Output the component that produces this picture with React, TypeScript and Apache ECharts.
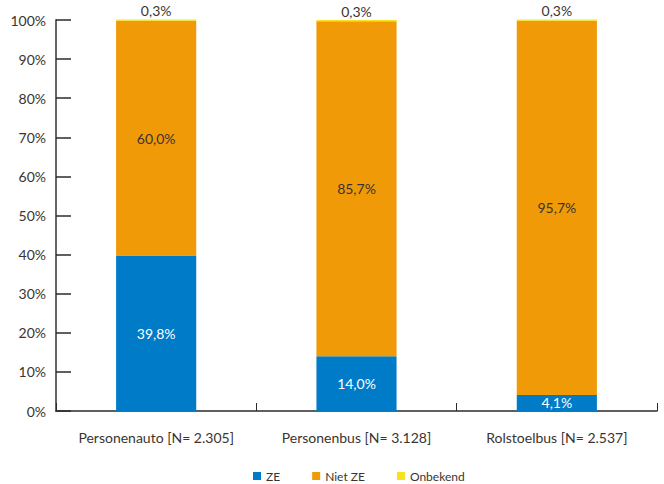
import React, { useEffect, useRef } from "react";
import * as echarts from "echarts";

const categories = ["Personenauto [N= 2.305]", "Personenbus [N= 3.128]", "Rolstoelbus [N= 2.537]"];
const seriesNames = ["ZE", "Niet ZE", "Onbekend"];
const zeValues = [39.8, 14.0, 4.1];
const nietZeValues = [60.0, 85.7, 95.7];
const onbekendValues = [0.3, 0.3, 0.3];
const yTicks = [0, 10, 20, 30, 40, 50, 60, 70, 80, 90, 100];

const colors = ["#007bc7", "#f09a07", "#f9e11e"];
const textColor = "#3b3430";
const font = "Lato, 'Noto Sans', sans-serif";

const fmt = (v: number) => v.toFixed(1).replace(".", ",") + "%";

export default function App() {
  const ref = useRef<HTMLDivElement>(null);
  useEffect(() => {
    document.body.style.margin = "0";
    if (!ref.current) return;
    const chart = echarts.init(ref.current, undefined, { renderer: "svg" });
    const dataSets = [zeValues, nietZeValues, onbekendValues];
    chart.setOption({
      animation: false,
      textStyle: { fontFamily: font, color: textColor },
      legend: {
        top: 470,
        left: 253,
        padding: 0,
        data: seriesNames,
        icon: "rect",
        itemWidth: 8,
        itemHeight: 8,
        itemGap: 32,
        textStyle: { fontSize: 12, color: textColor, fontFamily: font },
      },
      grid: { left: 56, right: 7, top: 20, bottom: 73, containLabel: false },
      xAxis: {
        type: "category",
        data: categories,
        axisLine: { lineStyle: { color: "#2b2b2b", width: 1.5 } },
        axisTick: { show: true, inside: true, length: 8, lineStyle: { color: "#2b2b2b" } },
        axisLabel: { fontSize: 14, color: textColor, margin: 19, fontFamily: font, interval: 0 },
      },
      yAxis: {
        type: "value",
        min: yTicks[0],
        max: yTicks[yTicks.length - 1],
        interval: 10,
        splitLine: { show: false },
        axisLine: { show: true, lineStyle: { color: "#666", width: 2 } },
        axisTick: { show: true, inside: true, length: 15, lineStyle: { color: "#2b2b2b", width: 1.5 } },
        axisLabel: {
          fontSize: 14,
          color: textColor,
          margin: 10,
          fontFamily: font,
          formatter: (v: number) => v + "%",
        },
      },
      series: seriesNames.map((name, i) => ({
        name,
        type: "bar",
        stack: "total",
        barWidth: "40%",
        clip: false,
        data: dataSets[i],
        itemStyle: { color: colors[i] },
        label: {
          show: true,
          position: i === 2 ? "top" : "inside",
          distance: 2,
          color: i === 0 ? "#ffffff" : textColor,
          fontSize: 14,
          fontFamily: font,
          formatter: (p: any) => fmt(p.value),
        },
      })),
    });
    return () => chart.dispose();
  }, []);
  return <div ref={ref} style={{ width: 664, height: 484 }} />;
}
